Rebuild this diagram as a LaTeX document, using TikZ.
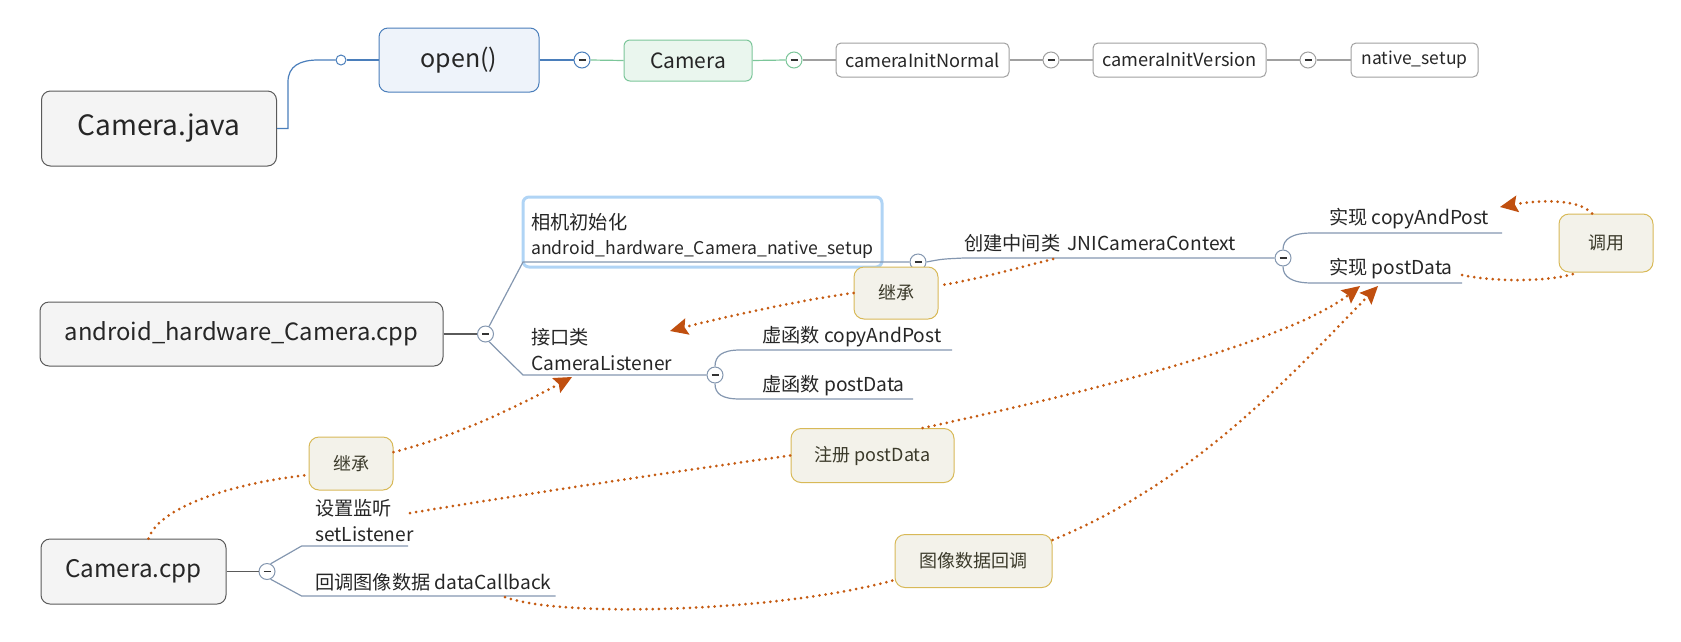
\documentclass[tikz,border=0pt]{standalone}
\usepackage{fontspec}
\setmainfont{Noto Sans CJK SC}
\usetikzlibrary{arrows.meta,calc}
\definecolor{txt}{HTML}{262626}
\definecolor{bluel}{HTML}{4A7EBB}
\definecolor{bluefill}{HTML}{EEF3FA}
\definecolor{greenl}{HTML}{7CC69A}
\definecolor{greenfill}{HTML}{EAF6EE}
\definecolor{greyl}{HTML}{A0A0A0}
\definecolor{darkl}{HTML}{5A5A5A}
\definecolor{mainfill}{HTML}{F4F4F4}
\definecolor{slate}{HTML}{8497B0}
\definecolor{hlc}{HTML}{B0D4F5}
\definecolor{lblfill}{HTML}{F3F2EA}
\definecolor{lblborder}{HTML}{D8B957}
\definecolor{lbltxt}{HTML}{3B3A2A}
\definecolor{dotc}{HTML}{C55A11}
\definecolor{arrc}{HTML}{C04F0F}
\tikzset{
  mainbox/.style={draw=darkl, fill=mainfill, rounded corners=9pt, line width=1pt, inner sep=0pt, text=txt},
  subbox/.style={draw=greyl, fill=white, rounded corners=5pt, line width=1pt, inner sep=0pt, text=txt,
    minimum height=34pt, font=\fontsize{18.2}{22}\selectfont},
  mn/.style={circle, draw=#1, fill=white, line width=1pt, minimum size=16pt, inner sep=0pt,
    path picture={\draw[line width=1.3pt, black!80] ([xshift=-3.5pt]path picture bounding box.center) -- ([xshift=3.5pt]path picture bounding box.center);}},
  btxt/.style={anchor=west, inner sep=0pt, font=\fontsize{19.2}{25.5}\selectfont, text=txt, align=left},
  lbl/.style={draw=lblborder, fill=lblfill, rounded corners=10pt, line width=1pt, inner sep=0pt,
    font=\fontsize{18}{22}\selectfont, text=lbltxt},
  ln/.style={line width=1.2pt, draw=#1},
  dotline/.style={draw=dotc, line width=3pt, line cap=round, dash pattern=on 0pt off 6.2pt},
  dotarrow/.style={dotline, -{Stealth[length=18pt,width=17pt,inset=3pt,line width=0pt,color=arrc]}}
}
\begin{document}
\begin{tikzpicture}[x=1pt,y=-1pt]
\useasboundingbox (0,0) rectangle (1681,641);
% ---------- top row ----------
\node[mainbox, minimum width=235pt, minimum height=75pt, font=\fontsize{28}{32}\selectfont] (java) at (159,128.5) {Camera.java};
\node[circle, draw=bluel, fill=white, line width=1pt, minimum size=10pt, inner sep=0pt] (c0) at (341,60) {};
\node[draw=bluel, fill=bluefill, rounded corners=9pt, line width=1pt, inner sep=0pt, text=txt,
  minimum width=160pt, minimum height=64pt, font=\fontsize{25}{28}\selectfont] (open) at (459,60) {open()};
\node[mn=bluel] (c1) at (582,60) {};
\node[draw=greenl, fill=greenfill, rounded corners=6pt, line width=1pt, inner sep=0pt, text=txt,
  minimum width=128pt, minimum height=41pt, font=\fontsize{21}{24}\selectfont] (camera) at (688,60.5) {Camera};
\node[mn=greenl] (c2) at (794,60) {};
\node[subbox, minimum width=173pt] (cin) at (922.5,60) {cameraInitNormal};
\node[mn=greyl] (c3) at (1051,60) {};
\node[subbox, minimum width=173pt] (civ) at (1179.5,60) {cameraInitVersion};
\node[mn=greyl] (c4) at (1308,60) {};
\node[subbox, minimum width=127pt, font=\fontsize{17.5}{22}\selectfont] (nsetup) at (1414.5,60) {native\_setup};
\draw[ln=bluel] (java.east) -- (288,128.5) -- (288,82) .. controls (288,66) and (300,60) .. (318,60) -- (c0.west);
\draw[ln=bluel] (c0.east) -- (open.west);
\draw[ln=bluel] (open.east) -- (c1.west);
\draw[ln=greenl] (c1.east) -- (camera.west);
\draw[ln=greenl] (camera.east) -- (c2.west);
\draw[ln=greyl] (c2.east) -- (cin.west);
\draw[ln=greyl] (cin.east) -- (c3.west);
\draw[ln=greyl] (c3.east) -- (civ.west);
\draw[ln=greyl] (civ.east) -- (c4.west);
\draw[ln=greyl] (c4.east) -- (nsetup.west);
% ---------- middle ----------
\node[mainbox, minimum width=403pt, minimum height=64pt, font=\fontsize{23.8}{28}\selectfont] (acpp) at (241.5,334) {android\_hardware\_Camera.cpp};
\node[draw=hlc, fill=white, rounded corners=6pt, line width=3pt, minimum width=359pt, minimum height=70pt] (hl) at (702.5,232) {};
\node[mn=slate] (c5) at (485.5,334) {};
\node[mn=slate] (c6) at (918,262) {};
\node[mn=slate] (c7) at (715,375) {};
\node[mn=slate] (c8) at (1283,258) {};
\coordinate (u1) at (523,262);
\coordinate (u2) at (523,375);
\coordinate (u3) at (952,350);
\coordinate (u4) at (913,399);
\coordinate (u5) at (1502,233);
\coordinate (u6) at (1462,283);
\draw[ln=darkl] (acpp.east) -- (c5.west);
\draw[ln=slate] (c5.65) -- (u1) -- (c6.west);
\draw[ln=slate] (c5.-65) -- (u2) -- (c7.west);
\draw[ln=slate] (c7.north) .. controls (715,356) and (722,350) .. (740,350) -- (u3);
\draw[ln=slate] (c7.south) .. controls (715,394) and (722,399) .. (740,399) -- (u4);
\draw[ln=slate] (c6.east) .. controls (942,259) .. (964,258) -- (c8.west);
\draw[ln=slate] (c8.north) .. controls (1283,239) and (1292,233) .. (1312,233) -- (u5);
\draw[ln=slate] (c8.south) .. controls (1283,277) and (1292,283) .. (1312,283) -- (u6);
\node[btxt] (t1) at (531,236) {相机初始化\\{\fontsize{17.6}{25.5}\selectfont android\_hardware\_Camera\_native\_setup}};
\node[btxt] (t2) at (531,349.5) {接口类\\CameraListener};
\node[btxt] (t3) at (762,337) {虚函数 copyAndPost};
\node[btxt] (t4) at (762,386) {虚函数 postData};
\node[btxt] (t5) at (964,243) {创建中间类\, JNICameraContext};
\node[btxt] (t6) at (1329,219) {实现 copyAndPost};
\node[btxt] (t7) at (1329,269) {实现 postData};
% ---------- bottom ----------
\node[mainbox, minimum width=185pt, minimum height=65pt, font=\fontsize{24.2}{30}\selectfont] (ccpp) at (133.5,571.5) {Camera.cpp};
\node[mn=slate] (c9) at (267,571.5) {};
\coordinate (u7) at (301.6,546);
\coordinate (u8) at (408,546);
\coordinate (u9) at (301.6,596);
\coordinate (u10) at (555.6,596);
\draw[ln=darkl] (ccpp.east) -- (c9.west);
\draw[ln=slate] (c9.65) -- (u7) -- (u8);
\draw[ln=slate] (c9.-65) -- (u9) -- (u10);
\node[btxt] (t8) at (315,520.5) {设置监听\\setListener};
\node[btxt] (t9) at (315,582) {回调图像数据 dataCallback};
% ---------- labels ----------
\node[lbl, minimum width=84pt, minimum height=52pt] (inh1) at (896,293) {继承};
\node[lbl, minimum width=84pt, minimum height=53pt] (inh2) at (351,463.5) {继承};
\node[lbl, minimum width=94pt, minimum height=58pt] (call) at (1606,243) {调用};
\node[lbl, minimum width=163pt, minimum height=54pt] (reg) at (872.5,455.5) {注册 postData};
\node[lbl, minimum width=157pt, minimum height=53pt] (imgcb) at (973.5,561) {图像数据回调};
% ---------- dotted relations ----------
\coordinate (jd) at (1053,259);
\coordinate (tipA) at (670,331);
\coordinate (tipB) at (572,377);
\coordinate (tipC) at (1360,286);
\coordinate (tipD) at (1378,286);
\coordinate (tipE) at (1500,207);
\coordinate (setl) at (410,513);
\coordinate (pde) at (1462,275);
\coordinate (dcb) at (505,597);
\draw[dotline] (jd) .. controls (1010,270) and (970,281) .. (inh1.10);
\draw[dotarrow] (inh1.west) .. controls (800,300) and (720,318) .. (tipA);
\draw[dotline] ([xshift=15pt]ccpp.north) .. controls (160,505) and (240,482) .. (inh2.195);
\draw[dotarrow] (inh2.15) .. controls (460,435) and (520,405) .. (tipB);
\draw[dotline] (setl) .. controls (550,490) and (700,468) .. (reg.west);
\draw[dotarrow] ($(reg.north)+(50,0)$) .. controls (1100,390) and (1290,340) .. (tipC);
\draw[dotline] (dcb) .. controls (560,618) and (780,612) .. ($(imgcb.west)+(0,19)$);
\draw[dotarrow] ($(imgcb.east)+(0,-21)$) .. controls (1200,480) and (1300,365) .. (tipD);
\draw[dotarrow] ($(call.north)+(-14,0)$) .. controls (1580,200) and (1545,199) .. (tipE);
\draw[dotline] (pde) .. controls (1500,283) and (1555,281) .. ($(call.south)+(-28,0)$);
\end{tikzpicture}
\end{document}
